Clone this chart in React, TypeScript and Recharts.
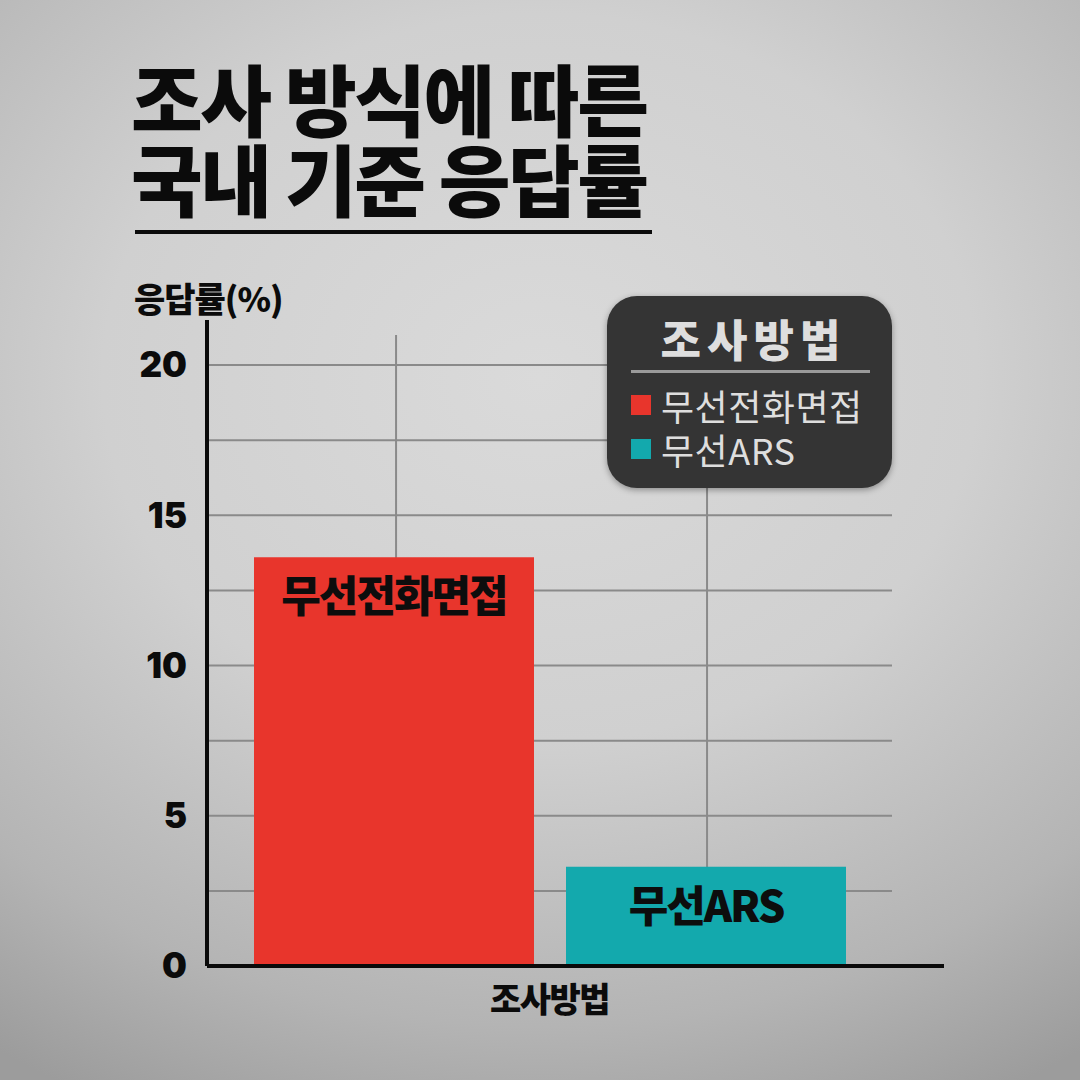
import { BarChart, Bar, XAxis, YAxis, CartesianGrid, LabelList } from 'recharts'

const categories = ['조사방법']
const seriesNames = ['무선전화면접', '무선ARS']
const phoneValues = [13.6]
const arsValues = [3.3]
const yTicks = [0, 5, 10, 15, 20]
const gridValues = [2.5, 5, 7.5, 10, 12.5, 15, 17.5, 20]
const colors = ['#e8352c', '#13a9ad']
const titleLines = ['조사 방식에 따른', '국내 기준 응답률']

const Y_MAX = 21.5
const FONT = '"Noto Sans CJK KR", "Noto Sans", sans-serif'

const data = categories.map((c, i) => ({ method: c, phone: phoneValues[i], ars: arsValues[i] }))

function barLabel(name: string) {
  return (p: any) => (
    <text
      x={p.x + p.width / 2}
      y={p.y + 36}
      textAnchor="middle"
      dominantBaseline="central"
      fontSize={43}
      fontWeight={900}
      fill="#0d0d0d"
      letterSpacing={-2}
      fontFamily={FONT}
    >
      {name}
    </text>
  )
}

export default function App() {
  return (
    <div
      style={{
        position: 'absolute',
        left: 0,
        top: 0,
        width: 1080,
        height: 1080,
        overflow: 'hidden',
        fontFamily: FONT,
        background: 'radial-gradient(ellipse 90% 75% at 50% 35%, #dadada 0%, #d0d0d0 45%, #b4b4b4 80%, #9c9c9c 100%)',
      }}
    >
      {/* 제목 */}
      {titleLines.map((t, i) => (
        <div
          key={t}
          style={{
            position: 'absolute',
            left: 131,
            top: 57 + i * 80,
            fontSize: 78,
            fontWeight: 900,
            lineHeight: '80px',
            color: '#0b0b0b',
            letterSpacing: -2.5,
            whiteSpace: 'nowrap',
          }}
        >
          {t}
        </div>
      ))}
      <div style={{ position: 'absolute', left: 135, top: 230, width: 517, height: 4, background: '#0b0b0b' }} />

      <div
        style={{
          position: 'absolute',
          left: 134,
          top: 276,
          fontSize: 34,
          fontWeight: 900,
          lineHeight: '44px',
          color: '#0b0b0b',
          letterSpacing: -1,
        }}
      >
        응답률(%)
      </div>

      <div style={{ position: 'absolute', left: 0, top: 0 }}>
        <BarChart
          width={1080}
          height={1080}
          data={data}
          margin={{ top: 320, right: 188, bottom: 54, left: 137 }}
          barSize={280}
          barGap={32}
        >
          <CartesianGrid
            stroke="#8a8a8a"
            strokeWidth={2}
            horizontalCoordinatesGenerator={({ offset }: any) =>
              gridValues.map(v => offset.top + offset.height * (1 - v / Y_MAX))
            }
            verticalCoordinatesGenerator={({ offset }: any) => [
              offset.left + offset.width * 0.276,
              offset.left + offset.width * 0.73,
            ]}
            vertical={(p: any) => (
              <line
                key={`v-${p.index ?? p.x1}`}
                x1={p.x1}
                x2={p.x2}
                y1={p.y1 + 15}
                y2={p.y2}
                stroke="#8a8a8a"
                strokeWidth={2}
              />
            )}
          />
          <XAxis
            dataKey="method"
            height={60}
            tickLine={false}
            axisLine={{ stroke: '#0a0a0a', strokeWidth: 4 }}
            tickMargin={16}
            tick={{ fontSize: 34, fontWeight: 900, fill: '#0b0b0b', fontFamily: FONT, letterSpacing: -1.5 }}
          />
          <YAxis
            width={70}
            domain={[0, Y_MAX]}
            ticks={yTicks}
            interval={0}
            tickLine={false}
            axisLine={{ stroke: '#0a0a0a', strokeWidth: 4 }}
            tickMargin={14}
            tick={{ fontSize: 35, fontWeight: 900, fill: '#0b0b0b', fontFamily: 'Inter, "Noto Sans", sans-serif' }}
          />
          <Bar dataKey="phone" name={seriesNames[0]} fill={colors[0]} isAnimationActive={false}>
            <LabelList dataKey="phone" content={barLabel(seriesNames[0])} />
          </Bar>
          <Bar dataKey="ars" name={seriesNames[1]} fill={colors[1]} isAnimationActive={false}>
            <LabelList dataKey="ars" content={barLabel(seriesNames[1])} />
          </Bar>
        </BarChart>
      </div>

      {/* x축 연장선 */}
      <div style={{ position: 'absolute', left: 890, top: 964, width: 54, height: 4, background: '#0a0a0a' }} />

      {/* 범례 */}
      <div
        style={{
          position: 'absolute',
          left: 607,
          top: 296,
          width: 285,
          height: 192,
          borderRadius: 30,
          background: '#343434',
          boxShadow: '0 2px 6px rgba(0,0,0,0.35)',
          boxSizing: 'border-box',
          padding: '14px 22px 0 24px',
          color: '#dedede',
        }}
      >
        <div
          style={{
            textAlign: 'center',
            fontSize: 44,
            fontWeight: 900,
            lineHeight: '56px',
            letterSpacing: 6,
            marginRight: -6,
          }}
        >
          조사방법
        </div>
        <div style={{ height: 3, background: '#9a9a9a', margin: '4px 0 10px 0' }} />
        {seriesNames.map((n, i) => (
          <div key={n} style={{ display: 'flex', alignItems: 'center', height: 44 }}>
            <div style={{ width: 20, height: 20, background: colors[i], marginRight: 10 }} />
            <div style={{ fontSize: 36, fontWeight: 400, letterSpacing: 0.5, whiteSpace: 'nowrap' }}>{n}</div>
          </div>
        ))}
      </div>
    </div>
  )
}
